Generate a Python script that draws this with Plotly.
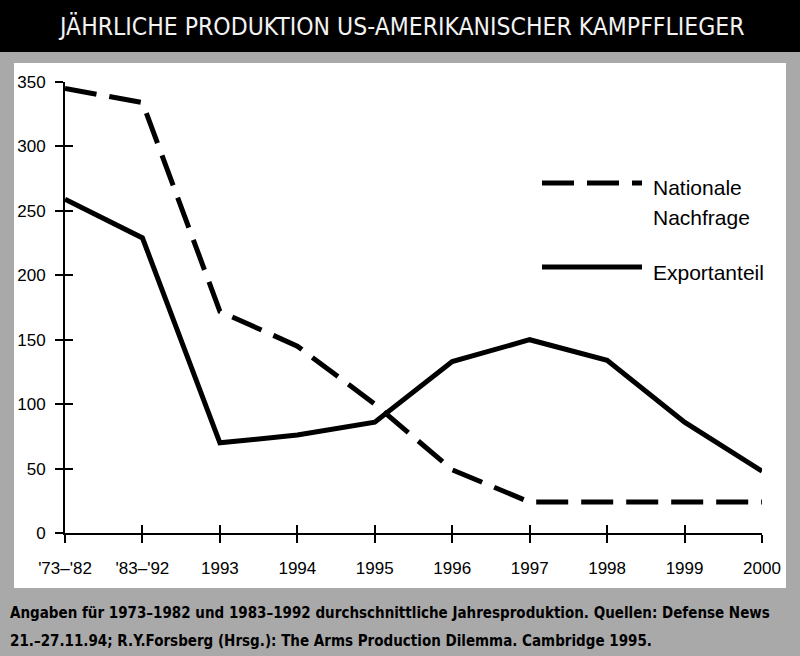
import plotly.graph_objects as go

categories = ["'73–'82", "'83–'92", "1993", "1994", "1995", "1996", "1997", "1998", "1999", "2000"]
nationale_nachfrage = [345, 334, 172, 145, 100, 49, 24, 24, 24, 24]
exportanteil = [259, 229, 70, 76, 86, 133, 150, 134, 86, 48]
y_ticks = [0, 50, 100, 150, 200, 250, 300, 350]

title_text = "JÄHRLICHE PRODUKTION US-AMERIKANISCHER KAMPFFLIEGER"
caption_1 = "Angaben für 1973–1982 und 1983–1992 durchschnittliche Jahresproduktion. Quellen: Defense News"
caption_2 = "21.–27.11.94; R.Y.Forsberg (Hrsg.): The Arms Production Dilemma. Cambridge 1995."

W, H = 800, 656
L, R, T, B = 65, 38, 82, 123
PW, PH = W - L - R, H - T - B


def px(x):
    return (x - L) / PW


def py(y):
    return (H - B - y) / PH


fig = go.Figure()
fig.add_trace(go.Scatter(
    x=categories, y=nationale_nachfrage, name="Nationale Nachfrage", mode="lines",
    line=dict(color="black", width=5, dash="32px,13px"), showlegend=False,
))
fig.add_trace(go.Scatter(
    x=categories, y=exportanteil, name="Exportanteil", mode="lines",
    line=dict(color="black", width=5), showlegend=False,
))
# invisible trace so the overlay axes (inside tick halves) are drawn
fig.add_trace(go.Scatter(
    x=categories, y=exportanteil, mode="lines", xaxis="x2", yaxis="y2",
    line=dict(color="rgba(0,0,0,0)", width=0), showlegend=False, hoverinfo="skip",
))

axis_font = dict(family="Liberation Sans, Arial, sans-serif", size=17, color="black")
cond = "DejaVu Sans Condensed, DejaVu Sans, sans-serif"

fig.update_layout(
    width=W, height=H,
    margin=dict(l=L, r=R, t=T, b=B),
    paper_bgcolor="#a9a9a9",
    plot_bgcolor="rgba(0,0,0,0)",
    xaxis=dict(
        type="category", categoryorder="array", categoryarray=categories,
        range=[0, len(categories) - 1], showgrid=False, zeroline=False,
        showline=True, linecolor="black", linewidth=2,
        ticks="outside", ticklen=8, tickwidth=2, tickcolor="black",
        tickfont=axis_font, ticklabelstandoff=11,
    ),
    yaxis=dict(
        range=[0, 350], tickvals=y_ticks, showgrid=False, zeroline=False,
        showline=True, linecolor="black", linewidth=2,
        ticks="outside", ticklen=8, tickwidth=2, tickcolor="black",
        tickfont=axis_font, ticklabelstandoff=6,
    ),
    xaxis2=dict(
        type="category", categoryorder="array", categoryarray=categories,
        matches="x", overlaying="x", showgrid=False, zeroline=False, showline=False,
        ticks="inside", ticklen=8, tickwidth=2, tickcolor="black", showticklabels=False,
    ),
    yaxis2=dict(
        matches="y", overlaying="y", tickvals=y_ticks, showgrid=False, zeroline=False,
        showline=False, ticks="inside", ticklen=8, tickwidth=2, tickcolor="black",
        showticklabels=False,
    ),
    shapes=[
        # white panel
        dict(type="rect", xref="paper", yref="paper", layer="below",
             x0=px(14), x1=px(786), y0=py(588), y1=py(63),
             fillcolor="white", line=dict(width=0)),
        # black title bar
        dict(type="rect", xref="paper", yref="paper", layer="below",
             x0=px(-5), x1=px(805), y0=py(52), y1=py(-5),
             fillcolor="black", line=dict(width=0)),
        # legend samples
        dict(type="line", xref="paper", yref="paper",
             x0=px(542), x1=px(642), y0=py(183), y1=py(183),
             line=dict(color="black", width=5, dash="32px,13px")),
        dict(type="line", xref="paper", yref="paper",
             x0=px(542), x1=px(642), y0=py(267), y1=py(267),
             line=dict(color="black", width=5)),
    ],
    annotations=[
        dict(text=title_text, xref="paper", yref="paper", x=px(401), y=py(27),
             xanchor="center", yanchor="middle", showarrow=False,
             font=dict(family=cond, size=24.5, color="#f2f2f2")),
        dict(text="Nationale", xref="paper", yref="paper", x=px(651), y=py(187),
             xanchor="left", yanchor="middle", showarrow=False,
             font=dict(family="Liberation Sans, Arial, sans-serif", size=21, color="black")),
        dict(text="Nachfrage", xref="paper", yref="paper", x=px(651), y=py(218),
             xanchor="left", yanchor="middle", showarrow=False,
             font=dict(family="Liberation Sans, Arial, sans-serif", size=21, color="black")),
        dict(text="Exportanteil", xref="paper", yref="paper", x=px(651), y=py(272),
             xanchor="left", yanchor="middle", showarrow=False,
             font=dict(family="Liberation Sans, Arial, sans-serif", size=21, color="black")),
        dict(text="<b>" + caption_1 + "</b>", xref="paper", yref="paper", x=px(8), y=py(613),
             xanchor="left", yanchor="middle", showarrow=False,
             font=dict(family=cond, size=15, color="black")),
        dict(text="<b>" + caption_2 + "</b>", xref="paper", yref="paper", x=px(8), y=py(641),
             xanchor="left", yanchor="middle", showarrow=False,
             font=dict(family=cond, size=15, color="black")),
    ],
)

fig.write_html(
    "out.html",
    config={"displayModeBar": False},
    post_script="document.body.style.margin='0';document.body.style.overflow='hidden';",
)
